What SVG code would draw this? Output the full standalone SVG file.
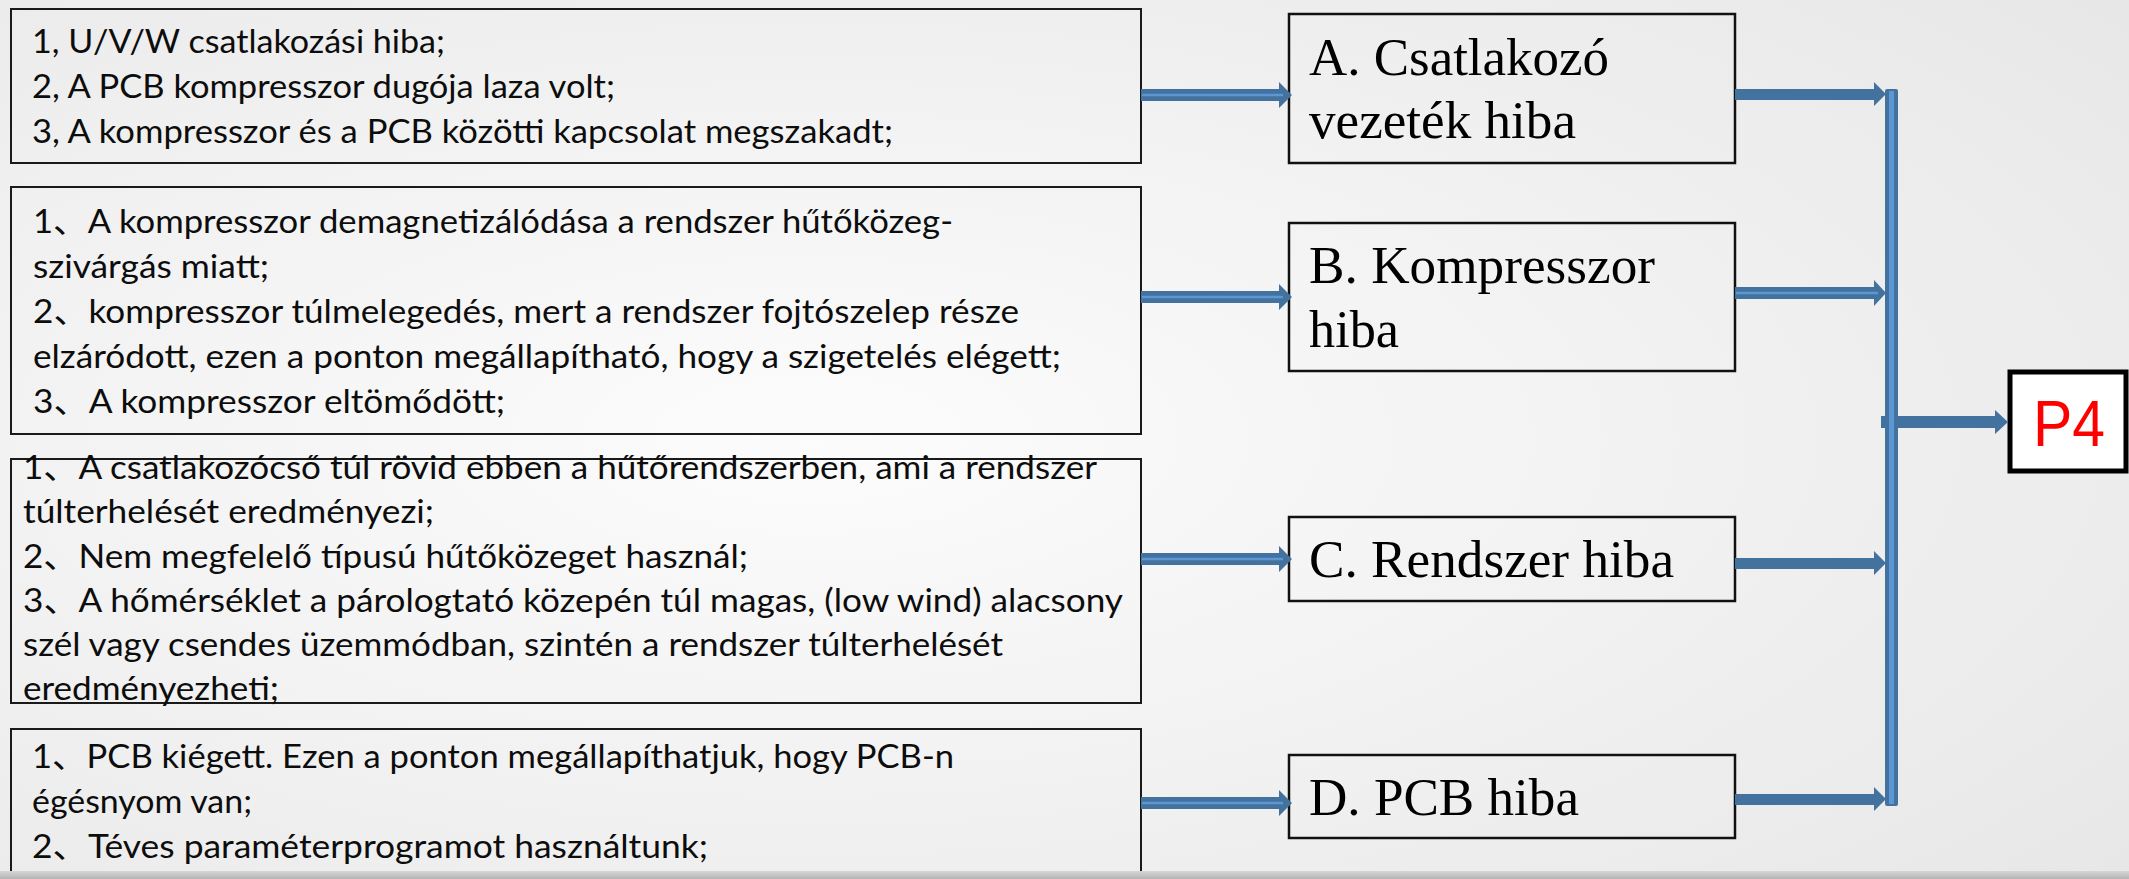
<svg xmlns="http://www.w3.org/2000/svg" width="2129" height="879" viewBox="0 0 2129 879">
  <defs>
    <radialGradient id="bg" cx="0.38" cy="0.5" r="0.8">
      <stop offset="0" stop-color="#fcfcfc"/>
      <stop offset="1" stop-color="#e7e7e7"/>
    </radialGradient>
    <linearGradient id="footer" x1="0" y1="0" x2="0" y2="1">
      <stop offset="0" stop-color="#d6d6d6"/>
      <stop offset="1" stop-color="#b4b4b4"/>
    </linearGradient>
  </defs>
  <style>
    .cause { fill: none; stroke: #1a1a1a; stroke-width: 2; }
    .mode { fill: none; stroke: #111; stroke-width: 2.5; }
    .ct { font-family: Lato, "Noto Sans CJK SC", sans-serif; font-size: 32px; fill: #0d0d0d; }
    .mt { font-family: "Liberation Serif", "Times New Roman", serif; font-size: 52px; fill: #000; }
    .arrow { fill: #44729f; }
    .stripe { stroke: #5b97d3; stroke-width: 2.5; fill: none; }
  </style>

  <!-- slide background -->
  <rect x="0" y="0" width="2129" height="879" fill="url(#bg)"/>

  <!-- cause boxes (left column) -->
  <g id="cause-a">
    <rect class="cause" x="11" y="9" width="1130" height="154"/>
    <text class="ct" x="32" y="53" textLength="413" lengthAdjust="spacingAndGlyphs">1, U/V/W csatlakozási hiba;</text>
    <text class="ct" x="32" y="98" textLength="583" lengthAdjust="spacingAndGlyphs">2, A PCB kompresszor dugója laza volt;</text>
    <text class="ct" x="32" y="143" textLength="861" lengthAdjust="spacingAndGlyphs">3, A kompresszor és a PCB közötti kapcsolat megszakadt;</text>
  </g>

  <g id="cause-b">
    <rect class="cause" x="11" y="187" width="1130" height="247"/>
    <text class="ct" x="33" y="233" textLength="920" lengthAdjust="spacingAndGlyphs">1、A kompresszor demagnetizálódása a rendszer hűtőközeg-</text>
    <text class="ct" x="33" y="278" textLength="236" lengthAdjust="spacingAndGlyphs">szivárgás miatt;</text>
    <text class="ct" x="33" y="323" textLength="986" lengthAdjust="spacingAndGlyphs">2、kompresszor túlmelegedés, mert a rendszer fojtószelep része</text>
    <text class="ct" x="33" y="368" textLength="1028" lengthAdjust="spacingAndGlyphs">elzáródott, ezen a ponton megállapítható, hogy a szigetelés elégett;</text>
    <text class="ct" x="33" y="413" textLength="472" lengthAdjust="spacingAndGlyphs">3、A kompresszor eltömődött;</text>
  </g>

  <g id="cause-c">
    <rect class="cause" x="11" y="459" width="1130" height="244"/>
    <text class="ct" x="23" y="479" textLength="1074" lengthAdjust="spacingAndGlyphs">1、A csatlakozócső túl rövid ebben a hűtőrendszerben, ami a rendszer</text>
    <text class="ct" x="23" y="523" textLength="411" lengthAdjust="spacingAndGlyphs">túlterhelését eredményezi;</text>
    <text class="ct" x="23" y="568" textLength="725" lengthAdjust="spacingAndGlyphs">2、Nem megfelelő típusú hűtőközeget használ;</text>
    <text class="ct" x="23" y="612" textLength="1100" lengthAdjust="spacingAndGlyphs">3、A hőmérséklet a párologtató közepén túl magas, (low wind) alacsony</text>
    <text class="ct" x="23" y="656" textLength="980" lengthAdjust="spacingAndGlyphs">szél vagy csendes üzemmódban, szintén a rendszer túlterhelését</text>
    <text class="ct" x="23" y="700" textLength="256" lengthAdjust="spacingAndGlyphs">eredményezheti;</text>
  </g>

  <g id="cause-d">
    <rect class="cause" x="11" y="729" width="1130" height="170"/>
    <text class="ct" x="32" y="768" textLength="922" lengthAdjust="spacingAndGlyphs">1、PCB kiégett. Ezen a ponton megállapíthatjuk, hogy PCB-n</text>
    <text class="ct" x="32" y="813" textLength="220" lengthAdjust="spacingAndGlyphs">égésnyom van;</text>
    <text class="ct" x="32" y="858" textLength="676" lengthAdjust="spacingAndGlyphs">2、Téves paraméterprogramot használtunk;</text>
  </g>

  <!-- failure-mode boxes (middle column) -->
  <g id="mode-a">
    <rect class="mode" x="1289" y="14" width="446" height="149"/>
    <text class="mt" x="1309" y="75" textLength="300" lengthAdjust="spacingAndGlyphs">A. Csatlakozó</text>
    <text class="mt" x="1309" y="138" textLength="267" lengthAdjust="spacingAndGlyphs">vezeték hiba</text>
  </g>
  <g id="mode-b">
    <rect class="mode" x="1289" y="223" width="446" height="148"/>
    <text class="mt" x="1309" y="283" textLength="346" lengthAdjust="spacingAndGlyphs">B. Kompresszor</text>
    <text class="mt" x="1309" y="347" textLength="90" lengthAdjust="spacingAndGlyphs">hiba</text>
  </g>
  <g id="mode-c">
    <rect class="mode" x="1289" y="517" width="446" height="84"/>
    <text class="mt" x="1309" y="577" textLength="365" lengthAdjust="spacingAndGlyphs">C. Rendszer hiba</text>
  </g>
  <g id="mode-d">
    <rect class="mode" x="1289" y="755" width="446" height="83"/>
    <text class="mt" x="1309" y="815" textLength="270" lengthAdjust="spacingAndGlyphs">D. PCB hiba</text>
  </g>

  <!-- result box -->
  <g id="result-p4">
    <rect x="2010" y="372" width="116" height="99" fill="#ffffff" stroke="#000" stroke-width="5"/>
    <text x="2033" y="446" font-family="'Liberation Sans', Arial, sans-serif" font-size="64" fill="#ff0000" textLength="72" lengthAdjust="spacingAndGlyphs">P4</text>
  </g>

  <!-- connectors -->
  <g id="connectors">
    <!-- cause -> mode arrows -->
    <path class="arrow" d="M1141 89 H1279 V82 L1292 95 L1279 108 V101 H1141 Z"/>
    <line class="stripe" x1="1142" y1="95" x2="1283" y2="95"/>
    <path class="arrow" d="M1141 291 H1279 V284 L1292 297 L1279 310 V303 H1141 Z"/>
    <line class="stripe" x1="1142" y1="297" x2="1283" y2="297"/>
    <path class="arrow" d="M1141 553 H1279 V546 L1292 559 L1279 572 V565 H1141 Z"/>
    <line class="stripe" x1="1142" y1="559" x2="1283" y2="559"/>
    <path class="arrow" d="M1141 797 H1279 V790 L1292 803 L1279 816 V809 H1141 Z"/>
    <line class="stripe" x1="1142" y1="803" x2="1283" y2="803"/>

    <!-- mode -> bus arrows -->
    <path class="arrow" d="M1735 89 H1874 V82 L1886 94 L1874 106 V100 H1735 Z"/>
    <path class="arrow" d="M1735 287 H1874 V280 L1886 293 L1874 306 V299 H1735 Z"/>
    <line class="stripe" x1="1736" y1="293" x2="1878" y2="293"/>
    <path class="arrow" d="M1735 558 H1874 V551 L1886 563 L1874 575 V569 H1735 Z"/>
    <path class="arrow" d="M1735 794 H1874 V787 L1886 799 L1874 811 V805 H1735 Z"/>

    <!-- bus -> result -->
    <path class="arrow" d="M1881 416 H1995 V410 L2008 422 L1995 434 V428 H1881 Z"/>

    <!-- collecting bus -->
    <rect class="arrow" x="1885" y="89" width="13" height="717" rx="2"/>
    <line x1="1891.5" y1="91" x2="1891.5" y2="804" stroke="#5b97d3" stroke-width="5"/>
  </g>

  <!-- bottom edge band -->
  <rect x="0" y="871" width="2129" height="8" fill="url(#footer)"/>
</svg>
